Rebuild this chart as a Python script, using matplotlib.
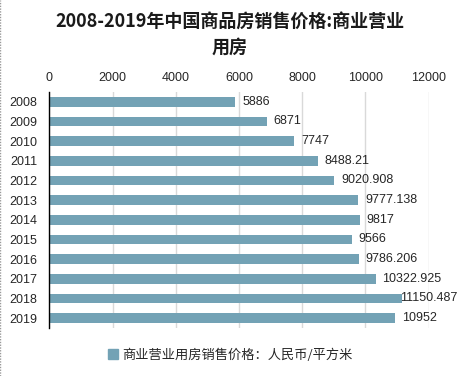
import matplotlib
matplotlib.use("Agg")
import matplotlib.pyplot as plt
from matplotlib.lines import Line2D

plt.rcParams['font.family'] = ['Noto Sans CJK SC', 'DejaVu Sans']

years = ['2008', '2009', '2010', '2011', '2012', '2013', '2014', '2015', '2016', '2017', '2018', '2019']
values = [5886, 6871, 7747, 8488.21, 9020.908, 9777.138, 9817, 9566, 9786.206, 10322.925, 11150.487, 10952]
labels = ['5886', '6871', '7747', '8488.21', '9020.908', '9777.138', '9817', '9566', '9786.206', '10322.925', '11150.487', '10952']
xticks = [0, 2000, 4000, 6000, 8000, 10000, 12000]
title = '2008-2019年中国商品房销售价格:商业营业\n用房'
series_name = '商业营业用房销售价格：人民币/平方米'

color = '#73A2B5'
fig = plt.figure(figsize=(4.59, 3.76), dpi=100)
ax = fig.add_axes([0.1078, 0.1277, 0.8258, 0.6277])

ypos = list(range(len(years)))
ax.barh(ypos, values, height=0.48, color=color, label=series_name, zorder=2)
ax.set_ylim(len(years) - 0.5, -0.5)
ax.set_xlim(0, 12000)
ax.set_yticks(ypos)
ax.set_yticklabels(years, fontsize=9, color='#262626', family=['Liberation Sans', 'DejaVu Sans'])
ax.set_xticks(xticks)
ax.set_xticklabels([str(t) for t in xticks], fontsize=9, color='#262626', family=['Liberation Sans', 'DejaVu Sans'])
ax.xaxis.tick_top()
ax.tick_params(axis='both', length=0)
ax.tick_params(axis='x', pad=6)
ax.tick_params(axis='y', pad=9)
ax.grid(axis='x', color='#D9D9D9', linewidth=1, zorder=0)
for s in ['top', 'right', 'bottom']:
    ax.spines[s].set_visible(False)
ax.spines['left'].set_color('#000000')
ax.spines['left'].set_linewidth(1)

for y, v, lab in zip(ypos, values, labels):
    off = 5 if v < 11000 else -1
    ax.annotate(lab, (v, y), xytext=(off, 0), textcoords='offset points', va='center', ha='left',
                fontsize=9, color='#262626', family=['Liberation Sans', 'DejaVu Sans'], zorder=3)

fig.text(0.5, 0.97, title, ha='center', va='top', fontsize=13, fontweight='bold',
         color='#1a1a1a', linespacing=1.5)

handle = Line2D([], [], marker='s', linestyle='none', markersize=7, color=color)
fig.legend([handle], [series_name], loc='center', bbox_to_anchor=(0.5, 0.056), frameon=False,
           fontsize=9.5, handletextpad=0.2, handlelength=1.0, labelcolor='#262626')

fig.add_artist(Line2D([0.001, 0.001], [0, 1], transform=fig.transFigure, color='#9a9a9a', linewidth=1, linestyle=(0, (1, 1))))

fig.savefig('out.png', dpi=100)
